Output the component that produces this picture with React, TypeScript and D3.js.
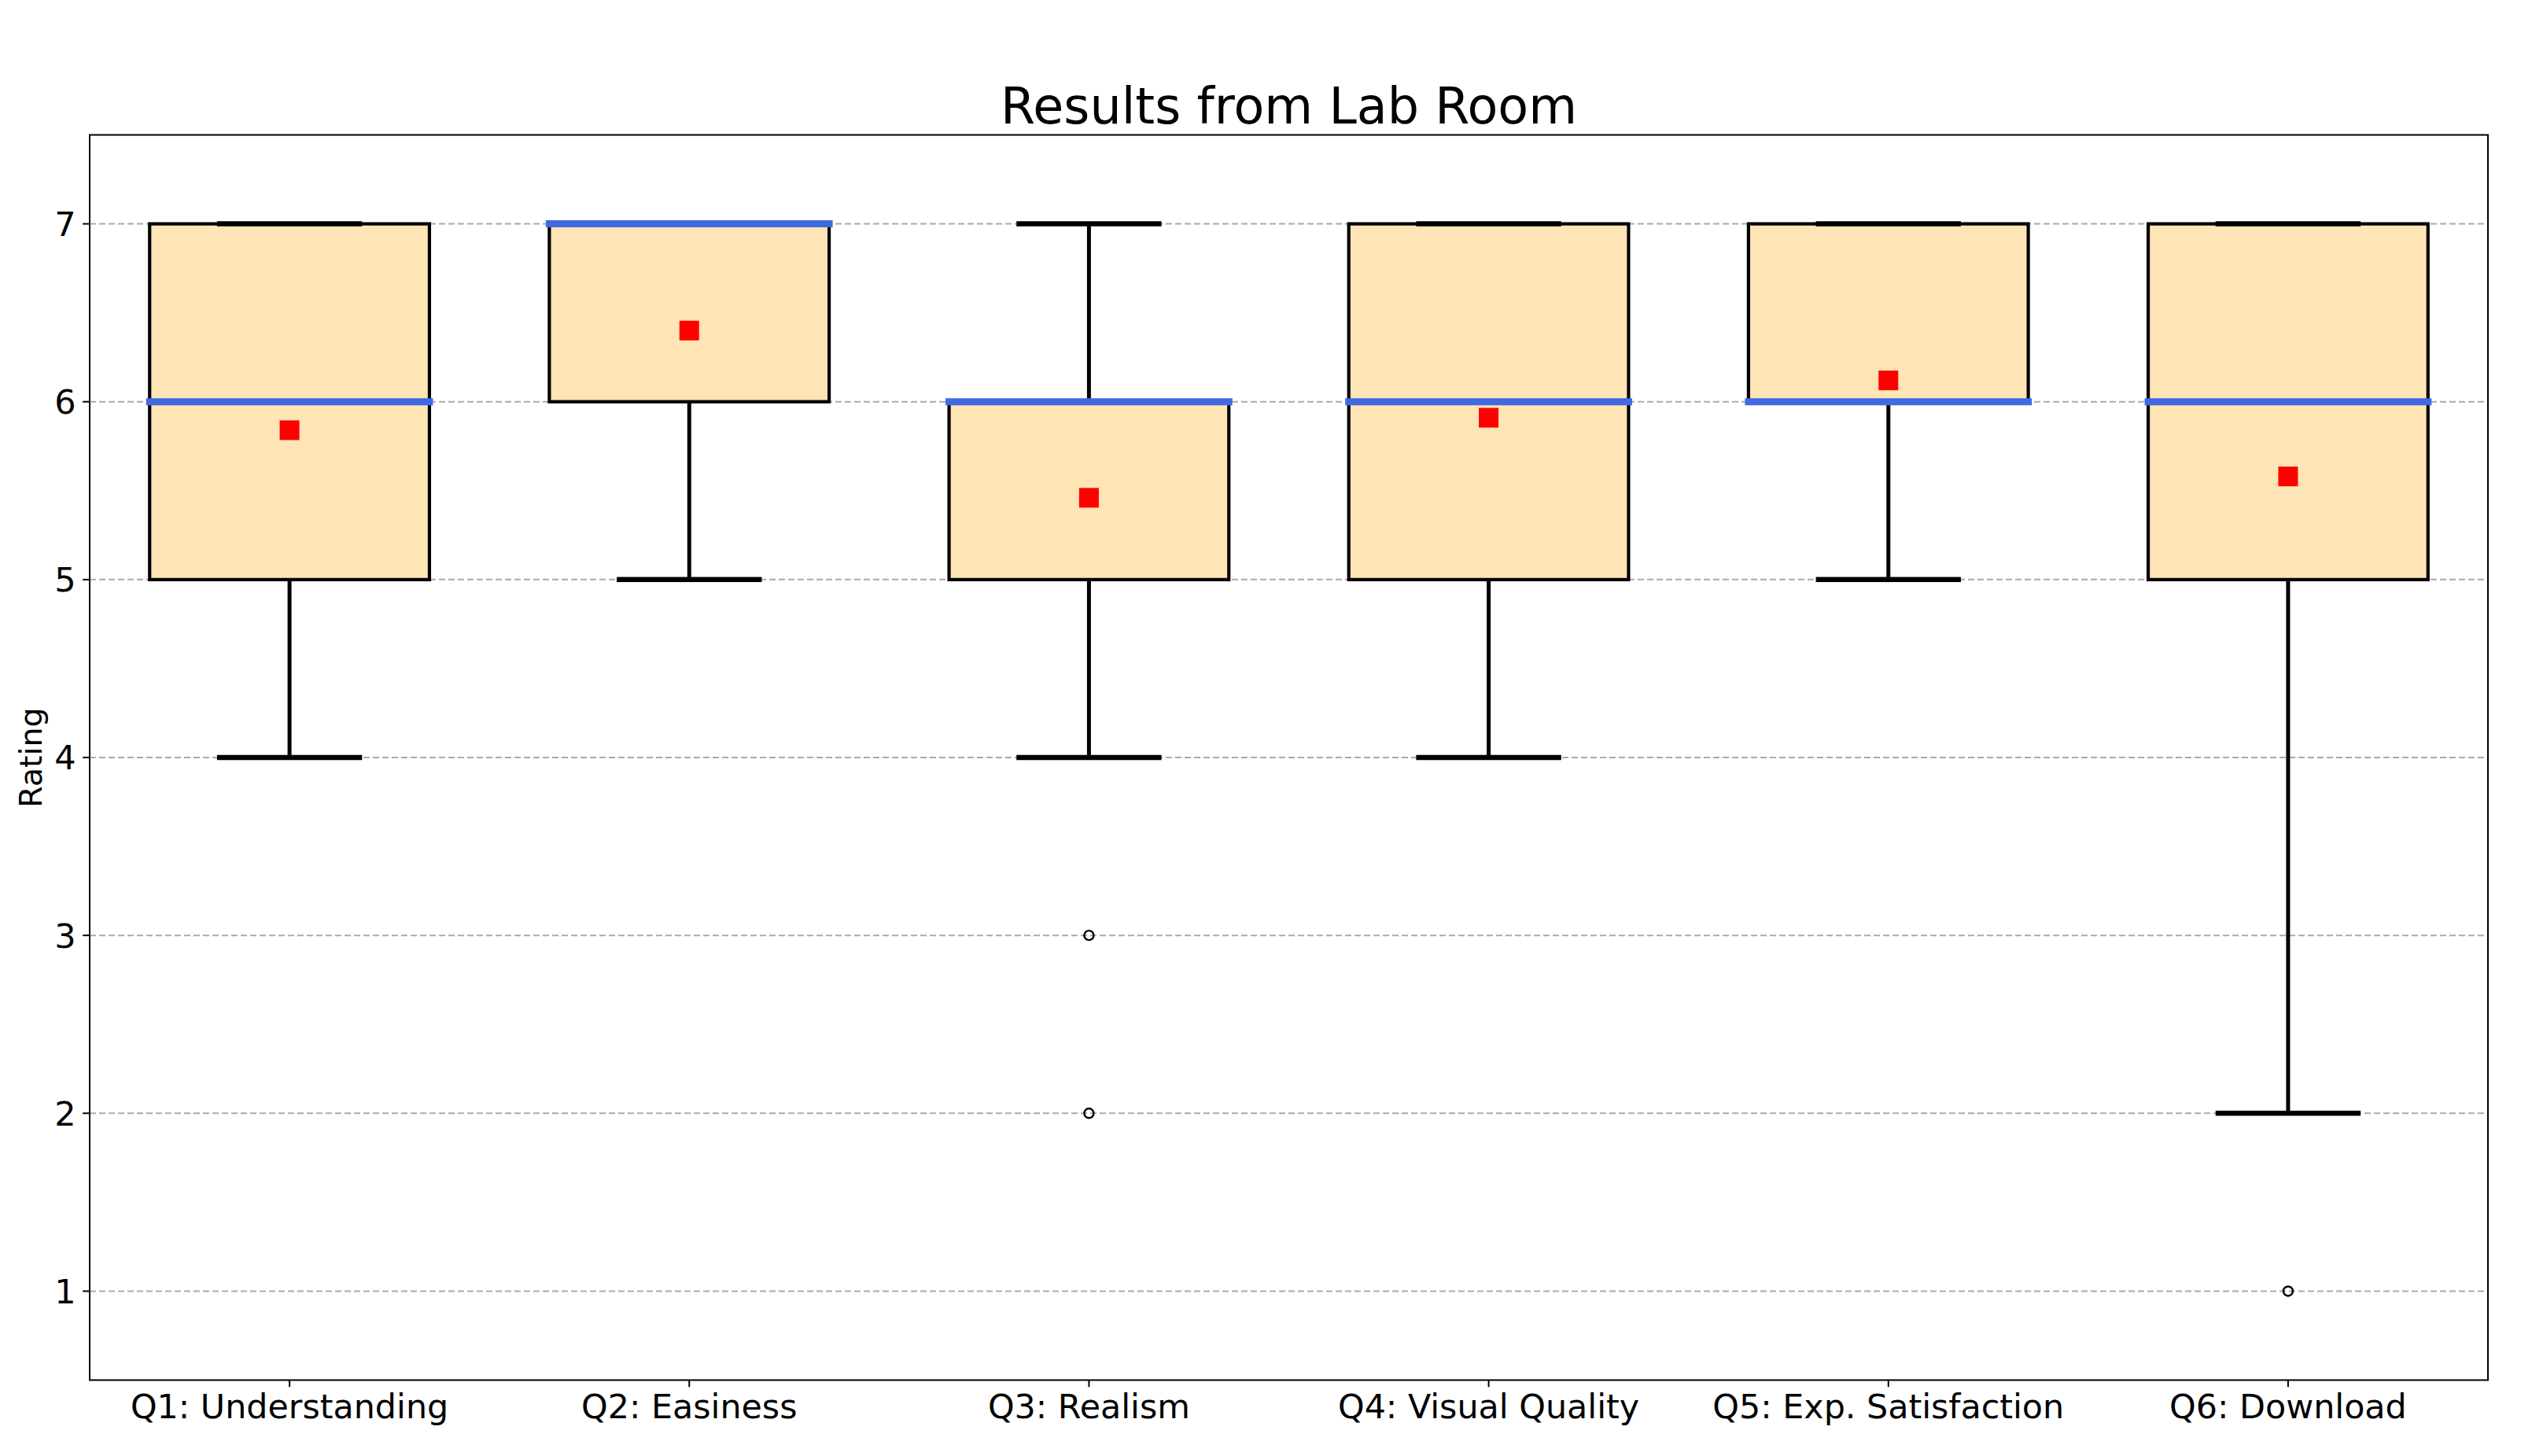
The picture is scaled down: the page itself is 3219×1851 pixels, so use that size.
import React from "react";
import * as d3 from "d3";

const CATEGORIES = [
  "Q1: Understanding",
  "Q2: Easiness",
  "Q3: Realism",
  "Q4: Visual Quality",
  "Q5: Exp. Satisfaction",
  "Q6: Download",
];
const WHISKER_LOW = [4, 5, 4, 4, 5, 2];
const Q1_VALUES = [5, 6, 5, 5, 6, 5];
const MEDIANS = [6, 7, 6, 6, 6, 6];
const Q3_VALUES = [7, 7, 6, 7, 7, 7];
const WHISKER_HIGH = [7, 7, 7, 7, 7, 7];
const MEANS = [5.84, 6.4, 5.46, 5.91, 6.12, 5.58];
const OUTLIERS: number[][] = [[], [], [3, 2], [], [], [1]];
const Y_TICKS = [1, 2, 3, 4, 5, 6, 7];

const W = 3219;
const H = 1851;
const M = { left: 114, right: 3163, top: 171.5, bottom: 1754.5 };
const FONT = "DejaVu Sans, Verdana, sans-serif";

export default function App() {
  const x = d3.scaleLinear().domain([0.5, CATEGORIES.length + 0.5]).range([M.left, M.right]);
  const y = d3.scaleLinear().domain([0.5, 7.5]).range([M.bottom, M.top]);
  const unit = x(2) - x(1);
  const boxW = unit * 0.7;
  const capW = unit * 0.35;
  const tickLen = 8.75;

  return (
    <div style={{ position: "absolute", left: 0, top: 0 }}>
      <svg width={W} height={H} style={{ display: "block", background: "#fff" }}>
        {/* grid */}
        {Y_TICKS.map((t) => (
          <line key={"g" + t} x1={M.left} x2={M.right} y1={y(t)} y2={y(t)}
            stroke="#aaaaaa" strokeWidth={2} strokeDasharray="8 4" />
        ))}

        {CATEGORIES.map((c, i) => {
          const cx = x(i + 1);
          return (
            <g key={c}>
              <rect x={cx - boxW / 2} y={y(Q3_VALUES[i])} width={boxW}
                height={y(Q1_VALUES[i]) - y(Q3_VALUES[i])}
                fill="#FFE4B5" stroke="#000" strokeWidth={4.2} />
              {/* whiskers */}
              <line x1={cx} x2={cx} y1={y(Q1_VALUES[i])} y2={y(WHISKER_LOW[i])} stroke="#000" strokeWidth={5} />
              <line x1={cx} x2={cx} y1={y(Q3_VALUES[i])} y2={y(WHISKER_HIGH[i])} stroke="#000" strokeWidth={5} />
              {/* caps */}
              <line x1={cx - capW / 2} x2={cx + capW / 2} y1={y(WHISKER_LOW[i])} y2={y(WHISKER_LOW[i])}
                stroke="#000" strokeWidth={6.5} strokeLinecap="square" />
              <line x1={cx - capW / 2} x2={cx + capW / 2} y1={y(WHISKER_HIGH[i])} y2={y(WHISKER_HIGH[i])}
                stroke="#000" strokeWidth={6.5} strokeLinecap="square" />
              {/* median */}
              <line x1={cx - boxW / 2} x2={cx + boxW / 2} y1={y(MEDIANS[i])} y2={y(MEDIANS[i])}
                stroke="#4169E1" strokeWidth={9} strokeLinecap="square" />
              {/* fliers */}
              {OUTLIERS[i].map((o) => (
                <circle key={o} cx={cx} cy={y(o)} r={6} fill="none" stroke="#000" strokeWidth={2.4} />
              ))}
              {/* mean */}
              <rect x={cx - 12.5} y={y(MEANS[i]) - 12.5} width={25} height={25} fill="#FF0000" />
            </g>
          );
        })}

        {/* frame */}
        <rect x={M.left} y={M.top} width={M.right - M.left} height={M.bottom - M.top}
          fill="none" stroke="#000" strokeWidth={2} />

        {/* y ticks */}
        {Y_TICKS.map((t) => (
          <g key={"yt" + t}>
            <line x1={M.left - tickLen} x2={M.left} y1={y(t)} y2={y(t)} stroke="#000" strokeWidth={2} />
            <text x={M.left - tickLen - 8.75} y={y(t)} dy="0.36em" textAnchor="end"
              fontFamily={FONT} fontSize={43} fill="#000">{t}</text>
          </g>
        ))}

        {/* x ticks */}
        {CATEGORIES.map((c, i) => (
          <g key={"xt" + c}>
            <line x1={x(i + 1)} x2={x(i + 1)} y1={M.bottom} y2={M.bottom + tickLen} stroke="#000" strokeWidth={2} />
            <text x={x(i + 1)} y={1803} textAnchor="middle" fontFamily={FONT} fontSize={42.8} fill="#000">{c}</text>
          </g>
        ))}

        {/* y label */}
        <text transform={`translate(53, ${(M.top + M.bottom) / 2}) rotate(-90)`} textAnchor="middle"
          fontFamily={FONT} fontSize={39.5} fill="#000">Rating</text>

        {/* title */}
        <text x={(M.left + M.right) / 2} y={157} textAnchor="middle" fontFamily={FONT} fontSize={63.5} fill="#000">
          Results from Lab Room
        </text>
      </svg>
    </div>
  );
}
